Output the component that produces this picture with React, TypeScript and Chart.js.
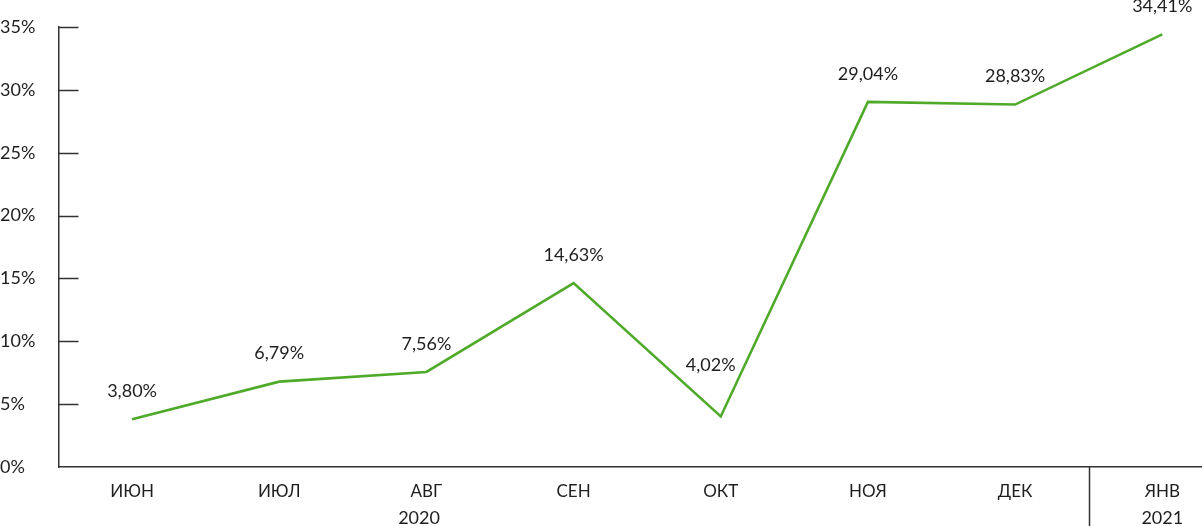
import React, { useEffect, useRef } from "react";
import { Chart, registerables } from "chart.js";

Chart.register(...registerables);

const months = ["ИЮН", "ИЮЛ", "АВГ", "СЕН", "ОКТ", "НОЯ", "ДЕК", "ЯНВ"];
const values = [3.8, 6.79, 7.56, 14.63, 4.02, 29.04, 28.83, 34.41];
const yMin = 0;
const yMax = 35;
const yStep = 5;
const years = ["2020", "2021"];
const yearCenters = [1.95, 7];
const yearDivider = 6.5;

const FONT = "Lato, 'Open Sans', sans-serif";
const TEXT = "#1e1e1e";
const AXIS = "#333333";
const GREEN = "#4faa2a";

const fmt = (v: number) => v.toFixed(2).replace(".", ",") + "%";

const lineYAt = (pts: any[], x: number) => {
  for (let i = 0; i < pts.length - 1; i++) {
    const a = pts[i];
    const b = pts[i + 1];
    if (x >= a.x && x <= b.x) return a.y + ((b.y - a.y) * (x - a.x)) / (b.x - a.x);
  }
  return Infinity;
};

const overlay = {
  id: "overlay",
  afterDraw(chart: any) {
    const ctx = chart.ctx;
    const area = chart.chartArea;
    const xs = chart.scales.x;
    const ys = chart.scales.y;
    ctx.save();
    // y tick marks inside the plot
    ctx.strokeStyle = AXIS;
    ctx.lineWidth = 1.5;
    ys.ticks.forEach((t: any) => {
      if (t.value === yMin) return;
      const y = Math.round(ys.getPixelForValue(t.value)) + 0.5;
      ctx.beginPath();
      ctx.moveTo(area.left, y);
      ctx.lineTo(area.left + 20, y);
      ctx.stroke();
    });
    // year divider
    const dx = Math.round(xs.getPixelForValue(yearDivider)) + 0.5;
    ctx.beginPath();
    ctx.moveTo(dx, area.bottom);
    ctx.lineTo(dx, chart.height);
    ctx.stroke();
    // year labels
    ctx.fillStyle = TEXT;
    ctx.font = `18px ${FONT}`;
    ctx.textAlign = "center";
    ctx.textBaseline = "middle";
    years.forEach((yr, i) => {
      ctx.fillText(yr, xs.getPixelForValue(yearCenters[i]), 518);
    });
    // data labels; lifted when the line would run through them
    const meta = chart.getDatasetMeta(0);
    const pts = meta.data.map((p: any) => ({ x: p.x, y: p.y }));
    meta.data.forEach((pt: any, i: number) => {
      const text = fmt(values[i]);
      const w = ctx.measureText(text).width;
      const ly0 = pt.y - 28;
      const boxBottom = ly0 + 11;
      const yl = lineYAt(pts, pt.x - w / 2);
      const yr = lineYAt(pts, pt.x + w / 2);
      const hit = Math.min(yl, yr) < boxBottom - 6;
      const lx = hit ? pt.x - 10 : pt.x;
      const ly = hit ? pt.y - 51 : ly0;
      ctx.fillText(text, lx, ly);
    });
    ctx.restore();
  },
};

export default function App() {
  const ref = useRef<HTMLCanvasElement>(null);
  useEffect(() => {
    if (!ref.current) return;
    const chart = new Chart(ref.current, {
      type: "line",
      data: {
        datasets: [
          {
            data: values.map((v, i) => ({ x: i, y: v })),
            borderColor: GREEN,
            borderWidth: 2.6,
            pointRadius: 0,
            tension: 0,
            fill: false,
          },
        ],
      },
      options: {
        animation: false,
        responsive: true,
        maintainAspectRatio: false,
        layout: { padding: { top: 27, left: 0, right: 0, bottom: 0 } },
        plugins: { legend: { display: false }, tooltip: { enabled: false } },
        scales: {
          x: {
            type: "linear",
            min: -0.5,
            max: 7.27,
            grid: { display: false },
            border: { display: true, color: AXIS, width: 1.5 },
            afterBuildTicks: (s: any) => {
              s.ticks = months.map((_, i) => ({ value: i }));
            },
            afterFit: (s: any) => {
              s.height = 59;
            },
            ticks: {
              autoSkip: false,
              maxRotation: 0,
              padding: 6,
              color: TEXT,
              font: { family: FONT, size: 17 },
              callback: (v: any) => months[v as number] ?? "",
            },
          },
          y: {
            min: yMin,
            max: yMax,
            grid: { display: false },
            border: { display: true, color: AXIS, width: 1.5 },
            afterFit: (s: any) => {
              s.width = 58.5;
            },
            ticks: {
              stepSize: yStep,
              crossAlign: "far",
              color: TEXT,
              font: { family: FONT, size: 18 },
              callback: (v: any) => v + "%",
            },
          },
        },
      },
      plugins: [overlay],
    });
    return () => chart.destroy();
  }, []);
  return (
    <div style={{ position: "fixed", left: 0, top: 0, width: 1202, height: 526 }}>
      <canvas ref={ref} />
    </div>
  );
}
